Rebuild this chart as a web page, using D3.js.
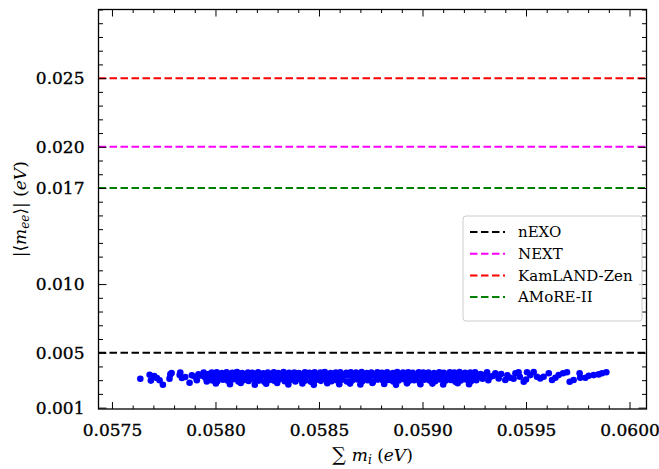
<!DOCTYPE html>
<html lang="en">
<head>
<meta charset="UTF-8" />
<title>m_ee vs sum m_i</title>
<script src="https://d3js.org/d3.v7.min.js"></script>
<style>
  body { margin: 0; background: #fff; }
  svg { display: block; }
  text { font-family: "DejaVu Serif", serif; fill: #000; }
</style>
</head>
<body>
<svg id="chart" width="659" height="469"></svg>
<script>
// experiment sensitivity lines (eV)
const experiments = ["nEXO", "NEXT", "KamLAND-Zen", "AMoRE-II"];
const limits = [0.005, 0.020, 0.025, 0.017];
const limitColors = ["#000000", "#ff00ff", "#ff0000", "#008000"];

const xTicks = [0.0575, 0.0580, 0.0585, 0.0590, 0.0595, 0.0600];
const yTicks = [0.001, 0.005, 0.010, 0.017, 0.020, 0.025];

// scatter points: [sum m_i, |<m_ee>|] in eV
const points = [
  // sparse left tail
  [0.057637,0.00310],[0.057682,0.00340],[0.057688,0.00297],[0.057704,0.00330],[0.057717,0.00316],
  [0.057730,0.00299],[0.057746,0.00267],[0.057778,0.00311],[0.057782,0.00342],[0.057788,0.00352],
  [0.057827,0.00338],[0.057830,0.00355],[0.057838,0.00316],[0.057854,0.00323],[0.057875,0.00281],
  [0.057886,0.00335],[0.057903,0.00323],[0.057910,0.00300],[0.057918,0.00343],[0.057935,0.00333],
  [0.057943,0.00355],[0.057951,0.00318],[0.057958,0.00290],[0.057967,0.00345],[0.057975,0.00312],
  // dense band, upper part
  [0.057982,0.00355],[0.058006,0.00358],[0.058031,0.00352],[0.058054,0.00357],[0.058081,0.00354],
  [0.058104,0.00359],[0.058129,0.00351],[0.058157,0.00356],[0.058178,0.00353],[0.058206,0.00358],
  [0.058231,0.00350],[0.058253,0.00355],[0.058282,0.00357],[0.058304,0.00352],[0.058329,0.00359],
  [0.058356,0.00354],[0.058381,0.00356],[0.058403,0.00351],[0.058432,0.00358],[0.058454,0.00353],
  [0.058479,0.00357],[0.058507,0.00355],[0.058528,0.00359],[0.058556,0.00352],[0.058581,0.00356],
  [0.058603,0.00358],[0.058632,0.00353],[0.058654,0.00357],[0.058679,0.00355],[0.058706,0.00359],
  [0.058731,0.00351],[0.058753,0.00356],[0.058782,0.00358],[0.058804,0.00354],[0.058829,0.00357],
  [0.058857,0.00352],[0.058878,0.00359],[0.058906,0.00355],[0.058931,0.00357],[0.058953,0.00353],
  [0.058982,0.00358],[0.059004,0.00355],[0.059029,0.00356],[0.059056,0.00352],[0.059081,0.00358],
  [0.059103,0.00354],[0.059132,0.00357],[0.059154,0.00355],[0.059179,0.00359],[0.059206,0.00353],
  [0.059231,0.00356],[0.059254,0.00358],
  // dense band, middle
  [0.057993,0.00327],[0.058019,0.00331],[0.058043,0.00322],[0.058067,0.00334],[0.058094,0.00325],
  [0.058116,0.00330],[0.058142,0.00320],[0.058168,0.00328],[0.058191,0.00333],[0.058217,0.00324],
  [0.058244,0.00329],[0.058266,0.00321],[0.058293,0.00332],[0.058317,0.00326],[0.058341,0.00330],
  [0.058368,0.00323],[0.058392,0.00334],[0.058416,0.00327],[0.058443,0.00331],[0.058467,0.00322],
  [0.058491,0.00328],[0.058518,0.00333],[0.058542,0.00325],[0.058566,0.00330],[0.058593,0.00321],
  [0.058617,0.00329],[0.058642,0.00334],[0.058668,0.00324],[0.058691,0.00327],[0.058716,0.00331],
  [0.058743,0.00322],[0.058767,0.00333],[0.058792,0.00326],[0.058818,0.00330],[0.058841,0.00323],
  [0.058866,0.00328],[0.058893,0.00334],[0.058917,0.00325],[0.058942,0.00329],[0.058968,0.00321],
  [0.058991,0.00332],[0.059016,0.00327],[0.059043,0.00330],[0.059067,0.00324],[0.059092,0.00333],
  [0.059118,0.00326],[0.059141,0.00329],[0.059166,0.00322],[0.059193,0.00331],[0.059217,0.00327],
  [0.059242,0.00330],[0.059268,0.00324],
  // dense band, lower part
  [0.057985,0.00298],[0.058009,0.00292],[0.058036,0.00303],[0.058060,0.00295],[0.058085,0.00306],
  [0.058111,0.00290],[0.058135,0.00300],[0.058160,0.00294],[0.058186,0.00305],[0.058210,0.00297],
  [0.058236,0.00289],[0.058261,0.00302],[0.058284,0.00296],[0.058310,0.00307],[0.058335,0.00293],
  [0.058359,0.00299],[0.058386,0.00291],[0.058410,0.00304],[0.058434,0.00297],[0.058461,0.00288],
  [0.058485,0.00301],[0.058509,0.00295],[0.058536,0.00306],[0.058560,0.00292],[0.058584,0.00299],
  [0.058611,0.00303],[0.058635,0.00290],[0.058660,0.00297],[0.058686,0.00305],[0.058709,0.00293],
  [0.058735,0.00300],[0.058761,0.00289],[0.058784,0.00304],[0.058810,0.00296],[0.058836,0.00302],
  [0.058859,0.00291],[0.058885,0.00298],[0.058911,0.00306],[0.058934,0.00294],[0.058960,0.00300],
  [0.058986,0.00290],[0.059009,0.00303],[0.059035,0.00297],[0.059061,0.00292],[0.059084,0.00305],
  [0.059110,0.00295],[0.059136,0.00301],[0.059159,0.00289],[0.059185,0.00298],[0.059211,0.00304],
  [0.059234,0.00293],[0.059260,0.00299],
  // dense band, scattered bottom edge
  [0.058002,0.00276],[0.058070,0.00270],[0.058122,0.00279],[0.058190,0.00267],[0.058245,0.00274],
  [0.058298,0.00280],[0.058352,0.00269],[0.058420,0.00276],[0.058475,0.00266],[0.058540,0.00278],
  [0.058598,0.00271],[0.058650,0.00275],[0.058700,0.00268],[0.058758,0.00279],[0.058815,0.00272],
  [0.058872,0.00266],[0.058925,0.00277],[0.058990,0.00270],[0.059048,0.00275],[0.059100,0.00268],
  [0.059170,0.00278],[0.059225,0.00271],
  // right tail
  [0.059280,0.00345],[0.059290,0.00310],[0.059300,0.00340],[0.059312,0.00358],[0.059318,0.00300],
  [0.059328,0.00325],[0.059340,0.00330],[0.059352,0.00350],[0.059368,0.00313],[0.059380,0.00345],
  [0.059400,0.00301],[0.059410,0.00335],[0.059424,0.00318],[0.059440,0.00310],[0.059449,0.00350],
  [0.059464,0.00358],[0.059470,0.00325],[0.059489,0.00289],[0.059500,0.00305],[0.059505,0.00358],
  [0.059521,0.00337],[0.059537,0.00359],[0.059553,0.00325],[0.059569,0.00313],[0.059585,0.00325],
  [0.059610,0.00350],[0.059626,0.00301],[0.059642,0.00318],[0.059658,0.00337],[0.059679,0.00350],
  [0.059698,0.00358],[0.059711,0.00289],[0.059730,0.00301],[0.059759,0.00350],[0.059762,0.00318],
  [0.059787,0.00318],[0.059803,0.00332],[0.059827,0.00337],[0.059851,0.00342],[0.059867,0.00350],
  [0.059888,0.00358]
];

const svg = d3.select("#chart");
const plotLeft = 98.5, plotRight = 646.5, plotTop = 9.5, plotBottom = 409;

const x = d3.scaleLinear().domain([0.057435, 0.060082]).range([plotLeft, plotRight]);
const y = d3.scaleLinear().domain([0.0009, 0.0300]).range([plotBottom, plotTop]);

const xMinor = d3.range(575, 601).map(d => d / 10000).filter(d => !xTicks.some(t => Math.abs(t - d) < 1e-9));
const yMinor = d3.range(1, 31).map(d => d / 1000).filter(d => !yTicks.some(t => Math.abs(t - d) < 1e-9));

// points
svg.append("g")
  .selectAll("circle")
  .data(points)
  .enter()
  .append("circle")
  .attr("cx", d => x(d[0]))
  .attr("cy", d => y(d[1]))
  .attr("r", 3.3)
  .attr("fill", "#0000ff");

// horizontal limit lines
svg.append("g")
  .selectAll("line")
  .data(limits)
  .enter()
  .append("line")
  .attr("x1", plotLeft)
  .attr("x2", plotRight)
  .attr("y1", d => y(d))
  .attr("y2", d => y(d))
  .attr("stroke", (d, i) => limitColors[i])
  .attr("stroke-width", 2)
  .attr("stroke-dasharray", "7.5,3.5");

// axes (ticks point inward)
function drawAxis(axis, transform, labels) {
  const g = svg.append("g").attr("transform", transform).call(axis);
  g.select(".domain").remove();
  g.selectAll(".tick line").attr("stroke", "#000").attr("stroke-width", 1);
  g.selectAll(".tick text")
    .style("font-family", "DejaVu Serif")
    .style("font-size", "17px")
    .attr("stroke", "#000")
    .attr("stroke-width", 0.35);
  if (!labels) g.selectAll(".tick text").remove();
  return g;
}

drawAxis(d3.axisBottom(x).tickValues(xTicks).tickFormat(d3.format(".4f")).tickSizeInner(-7).tickSizeOuter(0).tickPadding(15), `translate(0,${plotBottom})`, true);
drawAxis(d3.axisBottom(x).tickValues(xMinor).tickSizeInner(-3.5).tickSizeOuter(0), `translate(0,${plotBottom})`, false);
drawAxis(d3.axisTop(x).tickValues(xTicks).tickSizeInner(-7).tickSizeOuter(0), `translate(0,${plotTop})`, false);
drawAxis(d3.axisTop(x).tickValues(xMinor).tickSizeInner(-3.5).tickSizeOuter(0), `translate(0,${plotTop})`, false);

drawAxis(d3.axisLeft(y).tickValues(yTicks).tickFormat(d3.format(".3f")).tickSizeInner(-8).tickSizeOuter(0).tickPadding(14), `translate(${plotLeft},0)`, true);
drawAxis(d3.axisLeft(y).tickValues(yMinor).tickSizeInner(-4.5).tickSizeOuter(0), `translate(${plotLeft},0)`, false);
drawAxis(d3.axisRight(y).tickValues(yTicks).tickSizeInner(-8).tickSizeOuter(0), `translate(${plotRight},0)`, false);
drawAxis(d3.axisRight(y).tickValues(yMinor).tickSizeInner(-4.5).tickSizeOuter(0), `translate(${plotRight},0)`, false);

// frame
svg.append("rect")
  .attr("x", plotLeft).attr("y", plotTop)
  .attr("width", plotRight - plotLeft).attr("height", plotBottom - plotTop)
  .attr("fill", "none").attr("stroke", "#000").attr("stroke-width", 1.3);

// axis labels
const xl = svg.append("text")
  .attr("x", (plotLeft + plotRight) / 2).attr("y", 461)
  .attr("text-anchor", "middle")
  .style("font-size", "17px");
xl.append("tspan").style("font-size", "19px").text("∑ ");
xl.append("tspan").style("font-style", "italic").text("m");
xl.append("tspan").style("font-style", "italic").style("font-size", "12px").attr("dy", 3).text("i");
xl.append("tspan").attr("dy", -3).text(" (");
xl.append("tspan").style("font-style", "italic").text("eV");
xl.append("tspan").text(")");

const yl = svg.append("text")
  .attr("transform", `translate(26,${(plotTop + plotBottom) / 2}) rotate(-90)`)
  .attr("text-anchor", "middle")
  .style("font-size", "17px");
yl.append("tspan").text("|⟨");
yl.append("tspan").style("font-style", "italic").text("m");
yl.append("tspan").style("font-style", "italic").style("font-size", "12px").attr("dy", 3).text("ee");
yl.append("tspan").attr("dy", -3).text("⟩| (");
yl.append("tspan").style("font-style", "italic").text("eV");
yl.append("tspan").text(")");

// legend
const legend = svg.append("g").attr("transform", "translate(463,216)");
legend.append("rect")
  .attr("width", 179).attr("height", 105).attr("rx", 3)
  .attr("fill", "#fff").attr("fill-opacity", 0.8)
  .attr("stroke", "#cccccc").attr("stroke-width", 1);

const legendOrder = [0, 1, 2, 3];
const rows = legend.selectAll(".row")
  .data(legendOrder)
  .enter()
  .append("g")
  .attr("transform", (d, i) => `translate(0,${16 + i * 21.7})`);
rows.append("line")
  .attr("x1", 7).attr("x2", 42)
  .attr("stroke", d => limitColors[d])
  .attr("stroke-width", 2)
  .attr("stroke-dasharray", "7.5,3.5");
rows.append("text")
  .attr("x", 55).attr("dy", "0.35em")
  .style("font-size", "15px")
  .text(d => experiments[d]);
</script>
</body>
</html>
